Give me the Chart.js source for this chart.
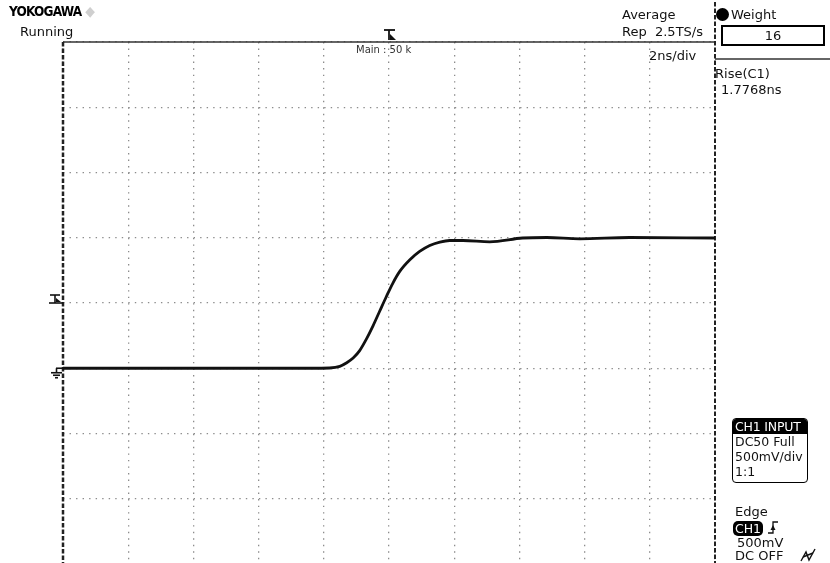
<!DOCTYPE html>
<html>
<head>
<meta charset="utf-8">
<script src="https://cdn.jsdelivr.net/npm/chart.js@4.4.1/dist/chart.umd.min.js"></script>
<style>
html, body { margin: 0; padding: 0; background: #fff; }
body { width: 830px; height: 563px; overflow: hidden; position: relative; font-family: "DejaVu Sans", sans-serif; color: #111; }
#scope { position: absolute; left: 0; top: 0; }
.t { position: absolute; white-space: nowrap; line-height: 1; font-size: 13px; }
.logo { font-family: "DejaVu Sans Condensed", "DejaVu Sans", sans-serif; font-weight: bold; font-size: 13.5px; letter-spacing: -0.8px; color: #000; }
.dia { color: #cfcfcf; font-size: 14px; margin-left: 4px; }
.small { font-size: 10px; color: #333; }
.dot { display: inline-block; width: 13px; height: 13px; border-radius: 50%; background: #000; vertical-align: -2px; margin-right: 2px; }
.weightbox { position: absolute; left: 721px; top: 25px; width: 100px; height: 17px; border: 2px solid #000; text-align: center; font-size: 13px; line-height: 17px; }
.inbox { position: absolute; left: 732px; top: 418px; width: 74px; height: 63px; border: 1.5px solid #000; border-radius: 4px; overflow: hidden; font-size: 12.5px; line-height: 15px; white-space: nowrap; }
.inbox .hd { background: #000; color: #fff; padding-left: 2px; height: 15px; letter-spacing: -0.2px; }
.inbox .ln { padding-left: 2px; }
.pill { position: absolute; left: 733px; top: 521px; width: 30px; height: 15px; background: #000; color: #fff; border-radius: 5px; font-size: 12.5px; line-height: 15px; text-align: center; }
</style>
</head>
<body>
<canvas id="scope" width="830" height="564"></canvas>

<div class="t logo" style="left:9px;top:4px;">YOKOGAWA<span class="dia">◆</span></div>
<div class="t" style="left:20px;top:25px;">Running</div>
<div class="t small" style="left:356px;top:45px;">Main : 50 k</div>
<div class="t" style="left:622px;top:8px;">Average</div>
<div class="t" style="left:622px;top:25px;">Rep&nbsp; 2.5TS/s</div>
<div class="t" style="left:649px;top:49px;">2ns/div</div>
<div class="t" style="left:716px;top:8px;"><span class="dot"></span>Weight</div>
<div class="weightbox">16</div>
<div class="t" style="left:715px;top:67px;">Rise(C1)</div>
<div class="t" style="left:721px;top:83px;">1.7768ns</div>

<div class="inbox">
  <div class="hd">CH1 INPUT</div>
  <div class="ln">DC50 Full</div>
  <div class="ln">500mV/div</div>
  <div class="ln">1:1</div>
</div>

<div class="t" style="left:735px;top:505px;">Edge</div>
<div class="pill">CH1</div>
<div class="t" style="left:737px;top:536px;">500mV</div>
<div class="t" style="left:735px;top:549px;">DC OFF</div>

<script>
// CH1 capture, 2 ns/div with the trigger at the centre, 500 mV/div
const timeNs = [-10, -6, -2.43, -1.82, -1.51, -1.31, -1.10, -0.90, -0.69, -0.49, -0.29, -0.08, 0.12, 0.33, 0.64, 0.94, 1.25, 1.56, 1.86, 2.27, 3.09, 4.10, 4.84, 5.85, 7.38, 10];
const ch1Volts = [0, 0, 0, 0.002, 0.014, 0.040, 0.078, 0.135, 0.225, 0.325, 0.435, 0.550, 0.653, 0.742, 0.831, 0.895, 0.941, 0.967, 0.979, 0.979, 0.969, 0.998, 1.002, 0.992, 1.002, 0.998];

// graticule: 10 x 8 divisions
const xTicks = [-10, -8, -6, -4, -2, 0, 2, 4, 6, 8, 10];
const yTicks = [-1.5, -1, -0.5, 0, 0.5, 1, 1.5, 2, 2.5];

const triggerLevel = 0.5; // V
const triggerTime = 0;    // ns

const points = timeNs.map((t, i) => ({ x: t, y: ch1Volts[i] }));

// frame, trigger markers, ground marker and the small panel glyphs
const scopeFrame = {
    id: 'scopeFrame',
    beforeDatasetsDraw(chart) {
        const { ctx, chartArea: a, scales: { x, y } } = chart;
        const line = (x1, y1, x2, y2) => { ctx.beginPath(); ctx.moveTo(x1, y1); ctx.lineTo(x2, y2); ctx.stroke(); };
        const tri = (pts) => { ctx.beginPath(); ctx.moveTo(...pts[0]); ctx.lineTo(...pts[1]); ctx.lineTo(...pts[2]); ctx.closePath(); ctx.fill(); };
        ctx.save();
        ctx.strokeStyle = '#333';
        ctx.lineWidth = 1.5;
        line(a.left, a.top, a.right, a.top);
        line(a.right, 59, chart.width, 59);

        // dashed side edges
        ctx.strokeStyle = '#222';
        ctx.setLineDash([4.5, 2]);
        ctx.lineWidth = 2.5;
        line(a.left, a.top, a.left, a.bottom);
        ctx.lineWidth = 2;
        line(a.right, 2, a.right, a.bottom);
        ctx.setLineDash([]);

        ctx.strokeStyle = '#111';
        ctx.fillStyle = '#111';
        ctx.lineWidth = 1.6;

        // trigger level marker on the left
        const ty = y.getPixelForValue(triggerLevel);
        line(50, ty - 8, 60, ty - 8);
        line(55, ty - 8, 55, ty);
        line(49, ty, a.left, ty);
        tri([[56, ty - 5], [61, ty - 1], [56, ty - 1]]);

        // ground marker
        const gy = y.getPixelForValue(0);
        line(56, gy, a.left, gy);
        line(56.5, gy, 56.5, gy + 4);
        line(51, gy + 4.5, 62, gy + 4.5);
        line(53, gy + 7, 60, gy + 7);
        line(55, gy + 9.5, 58, gy + 9.5);

        // trigger position marker at the top
        const tx = x.getPixelForValue(triggerTime);
        ctx.lineWidth = 1.8;
        line(tx - 5, a.top - 12, tx + 6, a.top - 12);
        line(tx, a.top - 12, tx, a.top - 2);
        tri([[tx + 1, a.top - 8], [tx + 7, a.top - 2], [tx + 1, a.top - 2]]);

        // rising edge glyph beside the CH1 pill
        ctx.lineWidth = 1.3;
        ctx.beginPath();
        ctx.moveTo(768, 533); ctx.lineTo(773, 533); ctx.lineTo(773, 522); ctx.lineTo(778, 522);
        ctx.stroke();
        tri([[770.5, 530], [775.5, 530], [773, 525]]);

        // noise-reject glyph at the bottom right
        ctx.lineWidth = 1.4;
        ctx.beginPath();
        ctx.moveTo(801, 561); ctx.lineTo(806, 552); ctx.lineTo(809, 560); ctx.lineTo(815, 549);
        ctx.stroke();
        line(803, 557, 813, 553);
        ctx.restore();
    }
};

const gridStyle = {
    color: '#8c8c8c',
    lineWidth: 1.3,
    drawTicks: false
};

var ctx = document.getElementById('scope').getContext('2d');
var scopeChart = new Chart(ctx, {
    type: 'scatter',
    data: {
        datasets: [{
            label: 'CH1',
            data: points,
            showLine: true,
            borderColor: '#111111',
            borderWidth: 2.8,
            pointRadius: 0,
            cubicInterpolationMode: 'monotone'
        }]
    },
    options: {
        responsive: false,
        animation: false,
        devicePixelRatio: 1,
        layout: { padding: { left: 63, top: 42, right: 115, bottom: 0 } },
        scales: {
            x: {
                type: 'linear',
                min: -10,
                max: 10,
                afterBuildTicks: s => { s.ticks = xTicks.map(v => ({ value: v })); },
                ticks: { display: false },
                grid: gridStyle,
                border: { display: false, dash: [1.4, 5.13] }
            },
            y: {
                type: 'linear',
                min: -1.5,
                max: 2.5,
                afterBuildTicks: s => { s.ticks = yTicks.map(v => ({ value: v })); },
                ticks: { display: false },
                grid: gridStyle,
                border: { display: false, dash: [1.4, 5.13] }
            }
        },
        plugins: {
            legend: { display: false },
            tooltip: { enabled: false }
        }
    },
    plugins: [scopeFrame]
});
</script>
</body>
</html>
